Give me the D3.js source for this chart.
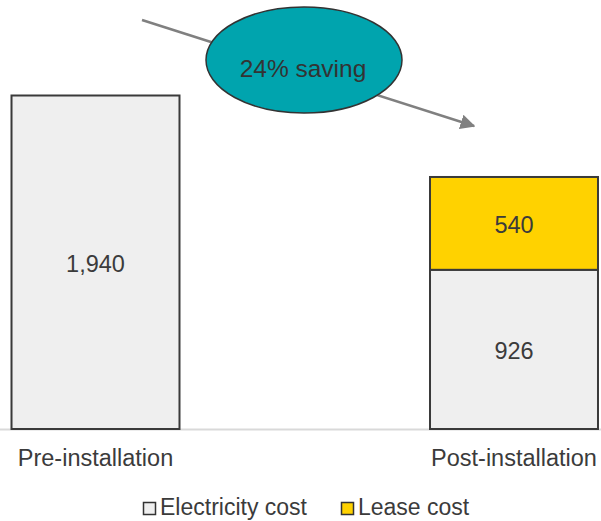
<!DOCTYPE html>
<html>
<head>
<meta charset="utf-8">
<script src="https://cdn.jsdelivr.net/npm/d3@7"></script>
<style>
  html, body { margin: 0; padding: 0; background: #fff; }
  svg { display: block; font-family: "Liberation Sans", Arial, sans-serif; }
</style>
</head>
<body>
<svg id="chart" width="601" height="521"></svg>
<script>
// Annual cost before and after installation
const categories = ["Pre-installation", "Post-installation"];
const seriesNames = ["Electricity cost", "Lease cost"];
const electricity = [1940, 926];
const lease = [0, 540];
const savingLabel = "24% saving";

const colors = { "Electricity cost": "#efefef", "Lease cost": "#ffd200" };
const W = 601, H = 521;
const svg = d3.select("#chart");

const x = d3.scaleBand()
  .domain(categories)
  .range([0, 609.5])
  .paddingInner(0.5986)
  .paddingOuter(0.0275);

const y = d3.scaleLinear().domain([0, 1940]).range([429, 95.5]);

const rows = categories.map((c, i) => ({
  category: c,
  "Electricity cost": electricity[i],
  "Lease cost": lease[i]
}));
const stacked = d3.stack().keys(seriesNames)(rows);

// baseline
svg.append("line")
  .attr("x1", 0).attr("x2", W)
  .attr("y1", y(0) + 0.5).attr("y2", y(0) + 0.5)
  .attr("stroke", "#d9d9d9").attr("stroke-width", 2);

const fmt = d3.format(",");

stacked.forEach(layer => {
  const g = svg.append("g");
  layer.forEach(d => {
    if (d[1] - d[0] <= 0) return;
    g.append("rect")
      .attr("x", x(d.data.category))
      .attr("width", x.bandwidth())
      .attr("y", y(d[1]))
      .attr("height", y(d[0]) - y(d[1]))
      .attr("fill", colors[layer.key])
      .attr("stroke", "#3a3a3a")
      .attr("stroke-width", 2);
    g.append("text")
      .attr("x", x(d.data.category) + x.bandwidth() / 2)
      .attr("y", (y(d[0]) + y(d[1])) / 2 + 2)
      .attr("text-anchor", "middle")
      .attr("dominant-baseline", "central")
      .attr("font-size", 23.5)
      .attr("fill", "#3b3b3b")
      .text(fmt(d[1] - d[0]));
  });
});

// category labels
svg.append("g").selectAll("text")
  .data(categories)
  .join("text")
  .attr("x", d => x(d) + x.bandwidth() / 2)
  .attr("y", 466)
  .attr("text-anchor", "middle")
  .attr("font-size", 23.5)
  .attr("fill", "#3b3b3b")
  .text(d => d);

// saving arrow
const defs = svg.append("defs");
defs.append("marker")
  .attr("id", "arrowHead")
  .attr("viewBox", "0 0 10 10")
  .attr("refX", 9).attr("refY", 5)
  .attr("markerWidth", 6).attr("markerHeight", 6)
  .attr("markerUnits", "strokeWidth")
  .attr("orient", "auto")
  .append("path")
  .attr("d", "M0,0 L10,5 L0,10 Z")
  .attr("fill", "#808080");

svg.append("line")
  .attr("x1", 142).attr("y1", 20)
  .attr("x2", 474).attr("y2", 126)
  .attr("stroke", "#808080")
  .attr("stroke-width", 2.5)
  .attr("marker-end", "url(#arrowHead)");

svg.append("ellipse")
  .attr("cx", 304).attr("cy", 60)
  .attr("rx", 98).attr("ry", 53)
  .attr("fill", "#00a4ae")
  .attr("stroke", "#333")
  .attr("stroke-width", 1.5);

svg.append("text")
  .attr("x", 303).attr("y", 68)
  .attr("text-anchor", "middle")
  .attr("dominant-baseline", "central")
  .attr("font-size", 24.5)
  .attr("fill", "#333")
  .text(savingLabel);

// legend
const legend = svg.append("g");
const legendItems = [
  { name: seriesNames[0], x: 143 },
  { name: seriesNames[1], x: 341 }
];
legendItems.forEach(it => {
  legend.append("rect")
    .attr("x", it.x + 0.5).attr("y", 502.5)
    .attr("width", 12).attr("height", 12)
    .attr("fill", colors[it.name])
    .attr("stroke", "#333").attr("stroke-width", 1.5);
  legend.append("text")
    .attr("x", it.x + 17).attr("y", 515)
    .attr("font-size", 23)
    .attr("fill", "#3b3b3b")
    .text(it.name);
});
</script>
</body>
</html>
